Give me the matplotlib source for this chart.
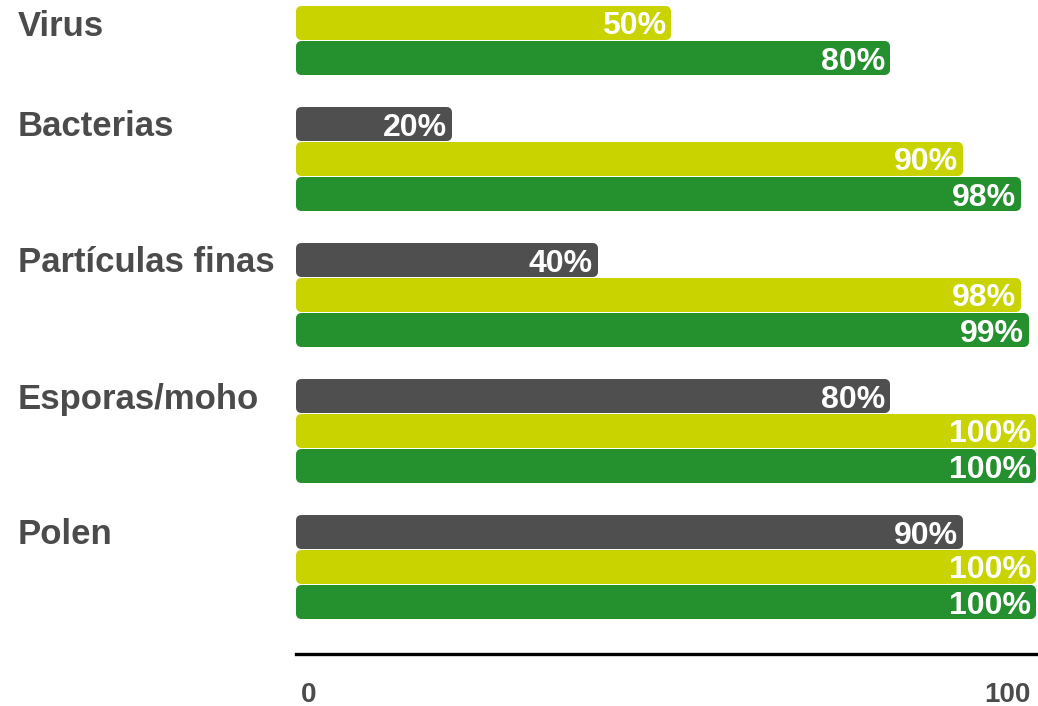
import matplotlib
matplotlib.use("Agg")
import matplotlib.pyplot as plt
from matplotlib.transforms import blended_transform_factory

categories = ["Virus", "Bacterias", "Partículas finas", "Esporas/moho", "Polen"]
series_grey = [None, 20, 40, 80, 90]
series_yellow = [50, 90, 98, 100, 100]
series_green = [80, 98, 99, 100, 100]
tick_values = [0, 100]
tick_labels = ["0", "100"]

series = [series_grey, series_yellow, series_green]
colors = ["#4f4f4f", "#c8d300", "#25902e"]

W, H = 1038, 706
fig = plt.figure(figsize=(W / 100, H / 100), dpi=100)
fig.patch.set_facecolor("white")

ax_left, ax_right = 296, 1036
ax_top, ax_bottom = 0, 654
ax = fig.add_axes([ax_left / W, 1 - ax_bottom / H, (ax_right - ax_left) / W, (ax_bottom - ax_top) / H])

stroke_px = 10
px_per_unit = (ax_right - ax_left - stroke_px) / 100
pad = (stroke_px / 2) / px_per_unit
ax.set_xlim(-pad, 100 + pad)
ax.set_ylim(ax_bottom - ax_top, 0)

base = -12
group_step = 136
pitch = 35
bar_h = 34 - stroke_px

label_tr = blended_transform_factory(fig.transFigure, ax.transData)

for i, cat in enumerate(categories):
    first_center = None
    for j, vals in enumerate(series):
        v = vals[i]
        if v is None:
            continue
        c = base + i * group_step + j * pitch
        if first_center is None:
            first_center = c
        ax.barh(c, v, height=bar_h, left=0, color=colors[j], edgecolor=colors[j],
                linewidth=stroke_px * 0.72, joinstyle="round", zorder=2)
        ax.text(v, c + 11.5, f"{v}%", ha="right", va="baseline", color="white",
                fontsize=23, fontweight="bold", family="Liberation Sans", zorder=3)
    fig.text(18 / W, first_center + 12.5, cat, transform=label_tr, ha="left", va="baseline",
             color="#4b4b4b", fontsize=25, fontweight="bold", family="Liberation Sans")

for s in ["top", "right", "left"]:
    ax.spines[s].set_visible(False)
ax.spines["bottom"].set_linewidth(2.4)
ax.spines["bottom"].set_color("black")
ax.set_yticks([])
ax.set_xticks(tick_values)
ax.set_xticklabels(tick_labels, fontsize=20, fontweight="bold", color="#4b4b4b",
                   family="Liberation Sans")
ax.tick_params(axis="x", length=0, pad=20)
tl = ax.get_xticklabels()
tl[0].set_horizontalalignment("left")
tl[-1].set_horizontalalignment("right")
ax.set_facecolor("none")

fig.savefig("out.png", dpi=100, facecolor="white")
